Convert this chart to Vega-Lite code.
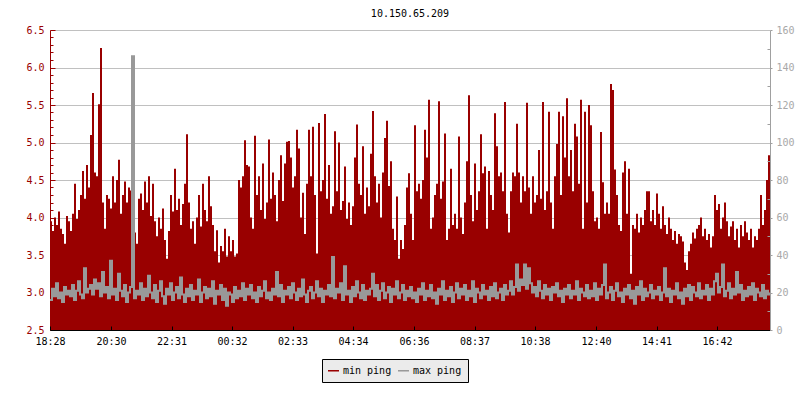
{
"$schema": "https://vega.github.io/schema/vega-lite/v6.json",
"width": 720, "height": 300,
"autosize": {"type": "none"},
"padding": {"left": 50, "top": 30, "right": 30, "bottom": 70},
"background": "white",
"title": {"text": "10.150.65.209", "font": "DejaVu Sans Mono", "fontSize": 10, "fontWeight": "normal", "color": "#000000", "anchor": "middle", "offset": 13, "baseline": "alphabetic", "dy": 15},
"config": {"view": {"stroke": null}, "axis": {"labelFont": "DejaVu Sans Mono", "labelFontSize": 10}},
"data": {"values": [
{"t":0,"min":3.95,"max":16},{"t":4,"min":3.82,"max":22},{"t":8,"min":4.0,"max":18},{"t":12,"min":3.9,"max":25},{"t":16,"min":4.08,"max":17},{"t":20,"min":3.85,"max":20},{"t":24,"min":3.78,"max":15},{"t":28,"min":3.65,"max":23},{"t":32,"min":4.02,"max":19},{"t":36,"min":3.95,"max":21},
{"t":40,"min":3.82,"max":18},{"t":44,"min":4.05,"max":24},{"t":48,"min":4.45,"max":16},{"t":52,"min":3.98,"max":21},{"t":56,"min":4.1,"max":26},{"t":60,"min":4.3,"max":19},{"t":64,"min":4.62,"max":17},{"t":68,"min":4.25,"max":33},{"t":72,"min":4.7,"max":20},{"t":76,"min":4.4,"max":22},
{"t":80,"min":5.1,"max":24},{"t":84,"min":5.66,"max":19},{"t":88,"min":4.6,"max":27},{"t":92,"min":4.55,"max":22},{"t":96,"min":5.51,"max":25},{"t":100,"min":6.26,"max":18},{"t":104,"min":4.2,"max":31},{"t":108,"min":3.85,"max":20},{"t":112,"min":4.3,"max":23},{"t":116,"min":4.25,"max":17},
{"t":120,"min":4.12,"max":37},{"t":124,"min":4.55,"max":19},{"t":128,"min":4.2,"max":22},{"t":132,"min":4.5,"max":16},{"t":136,"min":4.77,"max":30},{"t":140,"min":4.05,"max":21},{"t":144,"min":4.3,"max":18},{"t":148,"min":4.48,"max":24},{"t":152,"min":4.2,"max":15},{"t":156,"min":4.4,"max":20},
{"t":160,"min":4.36,"max":23},{"t":164,"min":4.05,"max":146},{"t":168,"min":3.8,"max":17},{"t":172,"min":3.65,"max":21},{"t":176,"min":4.25,"max":19},{"t":180,"min":4.32,"max":25},{"t":184,"min":4.1,"max":16},{"t":188,"min":4.48,"max":22},{"t":192,"min":4.2,"max":18},{"t":196,"min":4.55,"max":29},
{"t":200,"min":4.02,"max":20},{"t":204,"min":4.45,"max":17},{"t":208,"min":3.95,"max":24},{"t":212,"min":3.75,"max":15},{"t":216,"min":4.0,"max":21},{"t":220,"min":3.85,"max":26},{"t":224,"min":4.12,"max":18},{"t":228,"min":3.7,"max":14},{"t":232,"min":3.45,"max":22},{"t":236,"min":3.82,"max":19},
{"t":240,"min":4.3,"max":25},{"t":244,"min":4.08,"max":16},{"t":248,"min":4.65,"max":20},{"t":252,"min":4.1,"max":23},{"t":256,"min":4.25,"max":17},{"t":260,"min":3.9,"max":28},{"t":264,"min":4.18,"max":19},{"t":268,"min":4.45,"max":15},{"t":272,"min":5.11,"max":22},{"t":276,"min":4.2,"max":18},
{"t":280,"min":3.85,"max":24},{"t":284,"min":3.95,"max":16},{"t":288,"min":3.65,"max":21},{"t":292,"min":4.0,"max":19},{"t":296,"min":4.3,"max":27},{"t":300,"min":3.88,"max":15},{"t":304,"min":4.45,"max":20},{"t":308,"min":4.1,"max":23},{"t":312,"min":3.95,"max":17},{"t":316,"min":4.55,"max":22},
{"t":320,"min":4.15,"max":18},{"t":324,"min":3.9,"max":26},{"t":328,"min":3.55,"max":14},{"t":332,"min":3.83,"max":21},{"t":336,"min":3.4,"max":19},{"t":340,"min":3.62,"max":24},{"t":344,"min":3.55,"max":16},{"t":348,"min":3.85,"max":22},{"t":352,"min":3.48,"max":13},{"t":356,"min":3.75,"max":20},
{"t":360,"min":3.55,"max":19},{"t":364,"min":3.7,"max":15},{"t":368,"min":3.48,"max":23},{"t":372,"min":3.52,"max":17},{"t":376,"min":4.5,"max":21},{"t":380,"min":4.4,"max":18},{"t":384,"min":4.55,"max":25},{"t":388,"min":5.03,"max":16},{"t":392,"min":4.7,"max":22},{"t":396,"min":4.68,"max":19},
{"t":400,"min":4.0,"max":24},{"t":404,"min":3.85,"max":17},{"t":408,"min":5.09,"max":20},{"t":412,"min":4.3,"max":15},{"t":416,"min":4.55,"max":23},{"t":420,"min":4.1,"max":18},{"t":424,"min":4.72,"max":21},{"t":428,"min":3.98,"max":26},{"t":432,"min":4.2,"max":17},{"t":436,"min":5.04,"max":20},
{"t":440,"min":4.25,"max":16},{"t":444,"min":4.6,"max":22},{"t":448,"min":4.3,"max":19},{"t":452,"min":3.95,"max":31},{"t":456,"min":4.5,"max":18},{"t":460,"min":4.83,"max":24},{"t":464,"min":4.22,"max":15},{"t":468,"min":4.72,"max":21},{"t":472,"min":5.01,"max":19},{"t":476,"min":5.02,"max":23},
{"t":480,"min":4.8,"max":17},{"t":484,"min":4.4,"max":25},{"t":488,"min":4.55,"max":20},{"t":492,"min":5.17,"max":16},{"t":496,"min":4.92,"max":22},{"t":500,"min":4.0,"max":18},{"t":504,"min":4.33,"max":27},{"t":508,"min":3.78,"max":19},{"t":512,"min":4.45,"max":15},{"t":516,"min":5.17,"max":21},
{"t":520,"min":4.55,"max":23},{"t":524,"min":5.21,"max":17},{"t":528,"min":4.3,"max":20},{"t":532,"min":3.52,"max":26},{"t":536,"min":5.26,"max":18},{"t":540,"min":4.35,"max":22},{"t":544,"min":4.5,"max":15},{"t":548,"min":5.38,"max":21},{"t":552,"min":4.25,"max":19},{"t":556,"min":4.7,"max":24},
{"t":560,"min":4.05,"max":18},{"t":564,"min":4.15,"max":39},{"t":568,"min":5.15,"max":17},{"t":572,"min":4.35,"max":22},{"t":576,"min":5.0,"max":20},{"t":580,"min":4.1,"max":25},{"t":584,"min":4.22,"max":16},{"t":588,"min":4.68,"max":34},{"t":592,"min":3.98,"max":19},{"t":596,"min":4.2,"max":21},
{"t":600,"min":3.9,"max":15},{"t":604,"min":4.15,"max":23},{"t":608,"min":4.8,"max":18},{"t":612,"min":5.24,"max":26},{"t":616,"min":4.45,"max":20},{"t":620,"min":4.3,"max":17},{"t":624,"min":4.95,"max":24},{"t":628,"min":4.05,"max":16},{"t":632,"min":4.4,"max":21},{"t":636,"min":4.15,"max":19},
{"t":640,"min":4.85,"max":22},{"t":644,"min":5.42,"max":30},{"t":648,"min":4.55,"max":18},{"t":652,"min":4.2,"max":24},{"t":656,"min":4.45,"max":16},{"t":660,"min":4.0,"max":21},{"t":664,"min":4.6,"max":25},{"t":668,"min":5.06,"max":17},{"t":672,"min":5.29,"max":20},{"t":676,"min":4.42,"max":23},
{"t":680,"min":4.75,"max":15},{"t":684,"min":3.85,"max":22},{"t":688,"min":3.7,"max":19},{"t":692,"min":4.28,"max":26},{"t":696,"min":3.45,"max":17},{"t":700,"min":3.7,"max":20},{"t":704,"min":3.58,"max":24},{"t":708,"min":3.9,"max":16},{"t":712,"min":4.4,"max":21},{"t":716,"min":4.59,"max":18},
{"t":720,"min":4.05,"max":23},{"t":724,"min":3.7,"max":17},{"t":728,"min":5.23,"max":20},{"t":732,"min":4.35,"max":15},{"t":736,"min":4.45,"max":22},{"t":740,"min":4.25,"max":19},{"t":744,"min":4.5,"max":25},{"t":748,"min":5.17,"max":16},{"t":752,"min":4.8,"max":21},{"t":756,"min":5.57,"max":18},
{"t":760,"min":3.85,"max":24},{"t":764,"min":4.0,"max":17},{"t":768,"min":4.3,"max":20},{"t":772,"min":4.45,"max":14},{"t":776,"min":5.55,"max":22},{"t":780,"min":4.25,"max":19},{"t":784,"min":4.48,"max":26},{"t":788,"min":5.12,"max":16},{"t":792,"min":3.7,"max":21},{"t":796,"min":3.85,"max":18},
{"t":800,"min":4.65,"max":23},{"t":804,"min":3.9,"max":15},{"t":808,"min":4.05,"max":20},{"t":812,"min":3.85,"max":25},{"t":816,"min":5.08,"max":17},{"t":820,"min":4.0,"max":22},{"t":824,"min":3.78,"max":19},{"t":828,"min":4.2,"max":24},{"t":832,"min":4.75,"max":16},{"t":836,"min":5.63,"max":21},
{"t":840,"min":4.3,"max":18},{"t":844,"min":3.95,"max":26},{"t":848,"min":4.72,"max":15},{"t":852,"min":4.1,"max":22},{"t":856,"min":4.35,"max":20},{"t":860,"min":5.11,"max":17},{"t":864,"min":4.59,"max":24},{"t":868,"min":4.68,"max":19},{"t":872,"min":3.85,"max":21},{"t":876,"min":4.62,"max":16},
{"t":880,"min":4.3,"max":23},{"t":884,"min":4.1,"max":18},{"t":888,"min":5.39,"max":25},{"t":892,"min":4.95,"max":17},{"t":896,"min":4.55,"max":20},{"t":900,"min":4.6,"max":22},{"t":904,"min":4.35,"max":16},{"t":908,"min":5.54,"max":24},{"t":912,"min":4.05,"max":19},{"t":916,"min":3.8,"max":21},
{"t":920,"min":4.35,"max":26},{"t":924,"min":4.6,"max":19},{"t":928,"min":4.55,"max":23},{"t":932,"min":5.25,"max":35},{"t":936,"min":4.6,"max":21},{"t":940,"min":4.2,"max":27},{"t":944,"min":4.55,"max":24},{"t":948,"min":4.35,"max":35},{"t":952,"min":5.53,"max":22},{"t":956,"min":4.4,"max":33},
{"t":960,"min":4.05,"max":25},{"t":964,"min":4.55,"max":20},{"t":968,"min":4.2,"max":23},{"t":972,"min":4.3,"max":18},{"t":976,"min":4.9,"max":26},{"t":980,"min":4.25,"max":21},{"t":984,"min":5.54,"max":17},{"t":988,"min":4.1,"max":24},{"t":992,"min":4.35,"max":19},{"t":996,"min":5.41,"max":22},
{"t":1000,"min":4.2,"max":16},{"t":1004,"min":3.85,"max":23},{"t":1008,"min":4.55,"max":20},{"t":1012,"min":4.98,"max":25},{"t":1016,"min":5.41,"max":18},{"t":1020,"min":4.3,"max":21},{"t":1024,"min":5.35,"max":15},{"t":1028,"min":4.8,"max":22},{"t":1032,"min":5.59,"max":19},{"t":1036,"min":4.55,"max":24},
{"t":1040,"min":4.9,"max":17},{"t":1044,"min":4.35,"max":21},{"t":1048,"min":5.25,"max":19},{"t":1052,"min":5.08,"max":26},{"t":1056,"min":4.45,"max":16},{"t":1060,"min":5.57,"max":22},{"t":1064,"min":3.85,"max":20},{"t":1068,"min":5.41,"max":18},{"t":1072,"min":4.2,"max":24},{"t":1076,"min":5.5,"max":17},
{"t":1080,"min":5.23,"max":21},{"t":1084,"min":4.35,"max":18},{"t":1088,"min":3.95,"max":25},{"t":1092,"min":4.0,"max":16},{"t":1096,"min":3.85,"max":22},{"t":1100,"min":5.14,"max":19},{"t":1104,"min":4.47,"max":24},{"t":1108,"min":4.05,"max":35},{"t":1112,"min":4.2,"max":17},{"t":1116,"min":4.05,"max":20},
{"t":1120,"min":5.78,"max":23},{"t":1124,"min":5.7,"max":16},{"t":1128,"min":4.64,"max":21},{"t":1132,"min":4.3,"max":25},{"t":1136,"min":3.9,"max":18},{"t":1140,"min":3.82,"max":20},{"t":1144,"min":4.6,"max":15},{"t":1148,"min":4.75,"max":22},{"t":1152,"min":4.05,"max":19},{"t":1156,"min":4.65,"max":24},
{"t":1160,"min":3.25,"max":17},{"t":1164,"min":3.9,"max":21},{"t":1168,"min":3.85,"max":14},{"t":1172,"min":4.05,"max":23},{"t":1176,"min":3.8,"max":19},{"t":1180,"min":4.0,"max":26},{"t":1184,"min":3.9,"max":16},{"t":1188,"min":4.1,"max":22},{"t":1192,"min":4.35,"max":18},{"t":1196,"min":4.35,"max":20},
{"t":1200,"min":3.95,"max":24},{"t":1204,"min":4.1,"max":17},{"t":1208,"min":3.9,"max":21},{"t":1212,"min":4.32,"max":19},{"t":1216,"min":4.05,"max":23},{"t":1220,"min":3.85,"max":16},{"t":1224,"min":4.15,"max":20},{"t":1228,"min":3.9,"max":33},{"t":1232,"min":3.78,"max":18},{"t":1236,"min":4.0,"max":22},
{"t":1240,"min":3.85,"max":15},{"t":1244,"min":3.7,"max":21},{"t":1248,"min":3.82,"max":19},{"t":1252,"min":3.65,"max":25},{"t":1256,"min":3.78,"max":17},{"t":1260,"min":3.75,"max":20},{"t":1264,"min":3.68,"max":14},{"t":1268,"min":3.4,"max":22},{"t":1272,"min":3.3,"max":18},{"t":1276,"min":3.55,"max":24},
{"t":1280,"min":3.65,"max":16},{"t":1284,"min":3.8,"max":23},{"t":1288,"min":3.72,"max":20},{"t":1292,"min":3.85,"max":18},{"t":1296,"min":3.9,"max":25},{"t":1300,"min":4.0,"max":17},{"t":1304,"min":3.75,"max":21},{"t":1308,"min":3.85,"max":19},{"t":1312,"min":3.7,"max":24},{"t":1316,"min":3.78,"max":16},
{"t":1320,"min":3.6,"max":22},{"t":1324,"min":3.75,"max":19},{"t":1328,"min":4.3,"max":26},{"t":1332,"min":4.1,"max":30},{"t":1336,"min":4.18,"max":20},{"t":1340,"min":3.85,"max":23},{"t":1344,"min":4.0,"max":35},{"t":1348,"min":4.2,"max":18},{"t":1352,"min":3.95,"max":21},{"t":1356,"min":3.75,"max":25},
{"t":1360,"min":3.88,"max":17},{"t":1364,"min":3.95,"max":22},{"t":1368,"min":3.7,"max":19},{"t":1372,"min":3.85,"max":31},{"t":1376,"min":3.6,"max":20},{"t":1380,"min":3.9,"max":24},{"t":1384,"min":3.75,"max":16},{"t":1388,"min":3.95,"max":21},{"t":1392,"min":3.8,"max":18},{"t":1396,"min":3.7,"max":23},
{"t":1400,"min":3.85,"max":19},{"t":1404,"min":3.6,"max":25},{"t":1408,"min":3.75,"max":16},{"t":1412,"min":3.7,"max":22},{"t":1416,"min":3.85,"max":20},{"t":1420,"min":4.3,"max":18},{"t":1424,"min":3.9,"max":24},{"t":1428,"min":4.1,"max":17},{"t":1432,"min":4.5,"max":21},{"t":1436,"min":4.83,"max":19},
{"t":1440,"min":4.6,"max":20}
]},
"encoding": {
  "x": {"field": "t", "type": "quantitative", "scale": {"domain": [0, 1440], "nice": false, "zero": false},
    "axis": {"values": [0,122,243,364,485,606,728,849,970,1092,1213,1334], "labelExpr": "timeFormat(datetime(2024,0,1,18,28+datum.value),'%H:%M')", "title": null, "grid": false, "domainColor": "#000000", "tickColor": "#000000", "labelColor": "#000000", "tickSize": -4, "labelPadding": 10, "labelFlush": false, "labelOverlap": false, "zindex": 1}}
},
"layer": [
  {"mark": {"type": "area", "interpolate": "step-after", "clip": true},
   "encoding": {
     "y": {"field": "min", "type": "quantitative", "scale": {"domain": [2.5, 6.5], "nice": false, "zero": false},
       "axis": {"orient": "left", "values": [2.5,3,3.5,4,4.5,5,5.5,6,6.5], "format": ".1f", "title": null, "grid": true, "gridColor": "#c0c0c0", "domainColor": "#990000", "tickColor": "#990000", "labelColor": "#990000", "tickSize": -5, "labelPadding": 11, "labelOverlap": false, "zindex": 0}},
     "color": {"datum": "min ping", "type": "nominal", "scale": {"domain": ["min ping", "max ping"], "range": ["#990000", "#999999"]},
       "legend": {"title": null, "orient": "none", "legendX": 272, "legendY": 329, "direction": "horizontal", "symbolType": "M-1,-0.14L1,-0.14L1,0.14L-1,0.14Z", "symbolSize": 121, "symbolStrokeWidth": 0, "labelFont": "DejaVu Sans Mono", "labelFontSize": 10, "labelColor": "#000000", "fillColor": "#ebebeb", "strokeColor": "#000000", "padding": 6, "columnPadding": 6, "labelOffset": 4, "zindex": 1}},
     "opacity": {"datum": "shadow", "type": "nominal", "scale": {"domain": ["shadow"], "range": [1, 1]},
       "legend": {"title": null, "orient": "none", "legendX": 276, "legendY": 333, "direction": "horizontal", "symbolType": "M-1,-0.1667L1,-0.1667L1,0.1667L-1,0.1667Z", "symbolSize": 20736, "symbolFillColor": "#666666", "symbolStrokeColor": "#666666", "symbolStrokeWidth": 0, "labelExpr": "''", "labelOffset": 0, "padding": 0, "zindex": 0}}
   }},
  {"mark": {"type": "line", "interpolate": "step-after", "strokeWidth": 2, "clip": true},
   "encoding": {
     "y": {"field": "max", "type": "quantitative", "scale": {"domain": [0, 160], "nice": false},
       "axis": {"orient": "right", "values": [0,20,40,60,80,100,120,140,160], "title": null, "grid": false, "domainColor": "#a0a0a0", "tickColor": "#a0a0a0", "labelColor": "#a8a8a8", "tickSize": 2, "labelPadding": 4, "labelOverlap": false, "zindex": 1}},
     "color": {"datum": "max ping", "type": "nominal"}
   }},
  {"mark": {"type": "line", "strokeOpacity": 0},
   "encoding": {
     "y": {"field": "min", "type": "quantitative", "scale": {"domain": [2.5, 6.5], "nice": false, "zero": false},
       "axis": {"orient": "left", "values": [2.6,2.7,2.8,2.9,3.1,3.2,3.3,3.4,3.6,3.7,3.8,3.9,4.1,4.2,4.3,4.4,4.6,4.7,4.8,4.9,5.1,5.2,5.3,5.4,5.6,5.7,5.8,5.9,6.1,6.2,6.3,6.4], "labels": false, "domain": false, "grid": false, "title": null, "tickColor": "#990000", "tickSize": -3, "zindex": 0}}
   }},
  {"mark": {"type": "line", "strokeOpacity": 0},
   "encoding": {
     "y": {"field": "max", "type": "quantitative", "scale": {"domain": [0, 160], "nice": false},
       "axis": {"orient": "right", "values": [10,30,50,70,90,110,130,150], "labels": false, "domain": false, "grid": false, "title": null, "tickColor": "#a0a0a0", "tickSize": -3, "zindex": 1}}
   }}
],
"resolve": {"scale": {"y": "independent"}}
}
